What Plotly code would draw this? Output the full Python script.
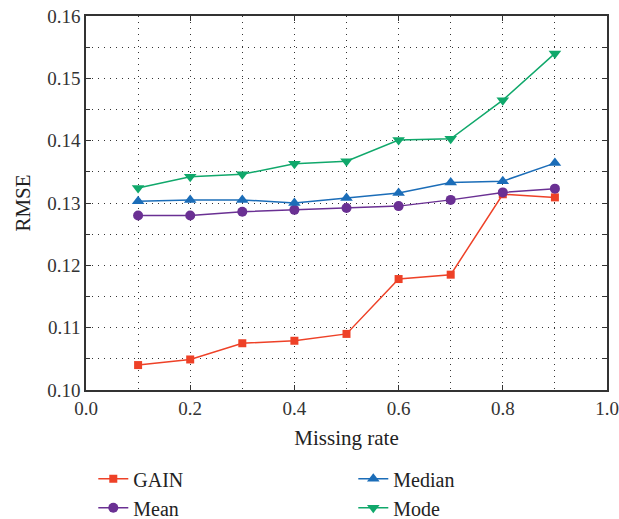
import plotly.graph_objects as go

missing_rate = [0.1, 0.2, 0.3, 0.4, 0.5, 0.6, 0.7, 0.8, 0.9]
gain = [0.1040, 0.1049, 0.1075, 0.1079, 0.1090, 0.1178, 0.1185, 0.1314, 0.1309]
mean = [0.1280, 0.1280, 0.1286, 0.1289, 0.1292, 0.1295, 0.1305, 0.1317, 0.1323]
median = [0.1303, 0.1305, 0.1305, 0.1300, 0.1308, 0.1316, 0.1333, 0.1335, 0.1364]
mode = [0.1324, 0.1342, 0.1346, 0.1363, 0.1367, 0.1401, 0.1403, 0.1465, 0.1540]

x_ticks = [0.0, 0.2, 0.4, 0.6, 0.8, 1.0]
y_ticks = [0.10, 0.11, 0.12, 0.13, 0.14, 0.15, 0.16]

series = [
    ("GAIN", gain, "#EE4127", "square", 8, 1),
    ("Mean", mean, "#6A3093", "circle", 10, 3),
    ("Median", median, "#1B6DB8", "triangle-up", 11, 2),
    ("Mode", mode, "#10A86B", "triangle-down", 11, 4),
]

fig = go.Figure()
for name, vals, color, sym, size, rank in series:
    fig.add_trace(go.Scatter(
        x=missing_rate, y=vals, name=name, mode="lines+markers",
        line=dict(color=color, width=1.5),
        marker=dict(symbol=sym, size=size, color=color),
        legendrank=rank,
    ))

font_family = "Liberation Serif, DejaVu Serif, serif"
axis_common = dict(
    showline=True, linecolor="#333333", linewidth=1.5, mirror="ticks",
    ticks="inside", ticklen=5, tickcolor="#333333", tickwidth=1,
    showgrid=True, gridcolor="#333333", gridwidth=1, griddash="1px,5px",
    zeroline=False, automargin=False, ticklabeloverflow="allow",
    tickfont=dict(family=font_family, size=19, color="#333333"),
    title_font=dict(family=font_family, size=21, color="#222222"),
)

fig.update_xaxes(
    range=[0, 1], tickvals=x_ticks, ticktext=[f"{v:.1f}" for v in x_ticks],
    title_text="Missing rate", title_standoff=13,
    minor=dict(dtick=0.1, showgrid=True, gridcolor="#333333", gridwidth=1,
               griddash="1px,5px", ticks=""),
    **axis_common,
)
fig.update_yaxes(
    range=[0.10, 0.16], tickvals=y_ticks, ticktext=[f"{v:.2f}" for v in y_ticks],
    title_text="RMSE", title_standoff=11,
    minor=dict(dtick=0.005, showgrid=True, gridcolor="#333333", gridwidth=1,
               griddash="1px,5px", ticks="inside", ticklen=4, tickcolor="#333333"),
    **axis_common,
)

fig.update_layout(
    width=619, height=519,
    margin=dict(l=86, r=12, t=16, b=129, autoexpand=False),
    plot_bgcolor="white", paper_bgcolor="white",
    showlegend=True,
    legend=dict(
        orientation="h", x=0.014, y=-0.185, xanchor="left", yanchor="top",
        entrywidth=215, entrywidthmode="pixels",
        font=dict(family=font_family, size=20, color="#222222"),
        tracegroupgap=0, itemwidth=30,
    ),
)

fig.write_html("out.html", config={"displayModeBar": False},
               post_script="document.body.style.margin='0';")
